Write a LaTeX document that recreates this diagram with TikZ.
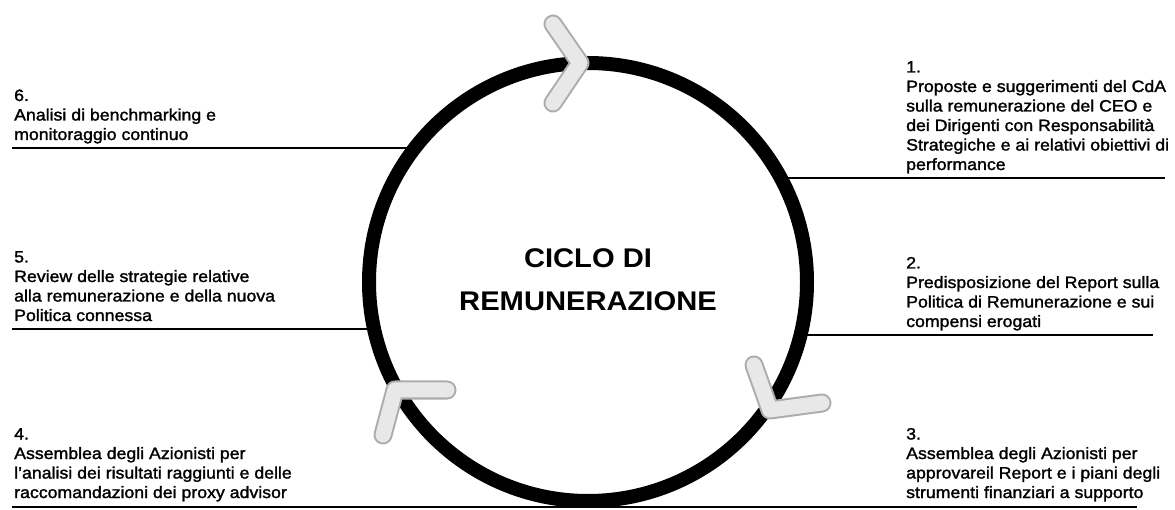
\documentclass[tikz,border=0pt]{standalone}
\usepackage{fontspec}
\setmainfont{Liberation Sans}[FakeStretch=1.08, UprightFeatures={FakeBold=1.6}]
\begin{document}
\begin{tikzpicture}[x=1bp,y=-1bp,
  rule/.style={line width=2.2bp, black},
  ring/.style={line width=14bp, black},
  chevout/.style={line width=19bp, gray!65, line cap=round, line join=round},
  chevin/.style={line width=15bp, gray!18, line cap=round, line join=round},
  blocktext/.style={anchor=base west, align=left, inner sep=0pt, font=\fontsize{16.4bp}{19.5bp}\selectfont},
  titletext/.style={align=center, inner sep=0pt, font=\bfseries\fontsize{27bp}{43bp}\selectfont}]
\useasboundingbox (0,0) rectangle (1175,510);
\fill[white] (0,0) rectangle (1175,510);
% centre of the cycle
\coordinate (c) at (588,282);
% rule end points
\coordinate (r6a) at (12,148);   \coordinate (r6b) at (416,148);
\coordinate (r1a) at (782,178);  \coordinate (r1b) at (1165,178);
\coordinate (r5a) at (12,329);   \coordinate (r5b) at (374,329);
\coordinate (r2a) at (800,335);  \coordinate (r2b) at (1153,335);
\coordinate (r4a) at (12,507);   \coordinate (r3b) at (1137,507);
\draw[rule] (r6a) -- (r6b);
\draw[rule] (r1a) -- (r1b);
\draw[rule] (r5a) -- (r5b);
\draw[rule] (r2a) -- (r2b);
\draw[rule] (r4a) -- (r3b);
% ring
\draw[ring] (c) circle[radius=219];
% chevrons
\coordinate (ta) at (553,24);  \coordinate (tv) at (580,63);  \coordinate (tb) at (553,103);
\coordinate (ra) at (754,365); \coordinate (rv) at (770,410); \coordinate (rb) at (822,403);
\coordinate (la) at (447,390); \coordinate (lv) at (395,390); \coordinate (lb) at (383,435);
\foreach \a/\v/\b in {ta/tv/tb, ra/rv/rb, la/lv/lb}{
  \draw[chevout] (\a) -- (\v) -- (\b);
  \draw[chevin] (\a) -- (\v) -- (\b);
}
% title
\node[titletext] (title) at (588,280) {CICLO DI\\REMUNERAZIONE};
% text blocks (anchor = baseline of the last line)
\node[blocktext] (t6) at (14,140) {6.\\Analisi di benchmarking e\\monitoraggio continuo};
\node[blocktext] (t1) at (906,170) {1.\\Proposte e suggerimenti del CdA\\sulla remunerazione del CEO e\\dei Dirigenti con Responsabilità\\Strategiche e ai relativi obiettivi di\\performance};
\node[blocktext] (t5) at (14,321) {5.\\Review delle strategie relative\\alla remunerazione e della nuova\\Politica connessa};
\node[blocktext] (t2) at (906,327) {2.\\Predisposizione del Report sulla\\Politica di Remunerazione e sui\\compensi erogati};
\node[blocktext] (t4) at (14,498) {4.\\Assemblea degli Azionisti per\\l'analisi dei risultati raggiunti e delle\\raccomandazioni dei proxy advisor};
\node[blocktext] (t3) at (906,498) {3.\\Assemblea degli Azionisti per\\approvareil Report e i piani degli\\strumenti finanziari a supporto};
\end{tikzpicture}
\end{document}
